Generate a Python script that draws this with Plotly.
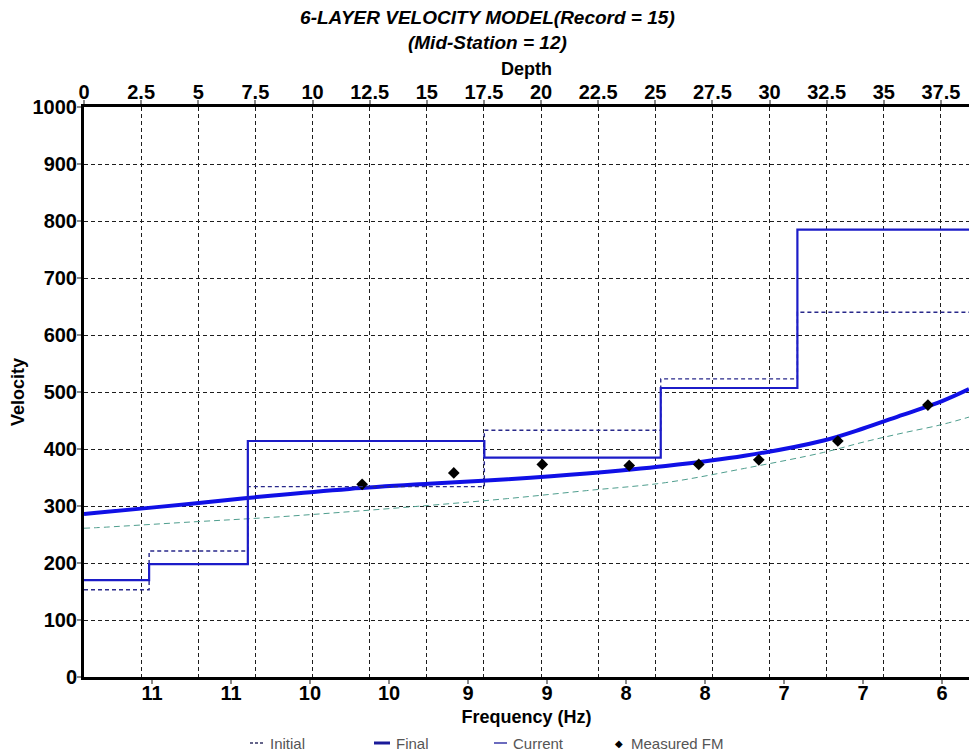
import plotly.graph_objects as go

# Layered velocity profiles (plotted against depth, top axis)
layer_tops = [0, 2.85, 7.17, 17.52, 25.24, 31.22]
initial_layer_vel = [153, 221, 334, 433, 523, 640]
current_layer_vel = [170, 198, 414, 385, 507, 785]

# Dispersion curves (plotted against frequency, bottom axis)
curve_freq = [11.68, 11.6, 11.0, 10.5, 10.0, 9.5, 9.0, 8.5, 8.0, 7.5, 7.0, 6.75, 6.5, 6.25, 6.08]
final_curve_vel = [286, 288, 304, 318, 330, 339, 347, 357, 370, 388, 415, 436, 460, 484, 505]
initial_curve_vel = [261, 262, 272, 280, 290, 301, 313, 327, 341, 366, 394, 412, 428, 443, 456]

# Measured fundamental-mode picks
measured_freq = [9.92, 9.34, 8.78, 8.23, 7.79, 7.41, 6.91, 6.34]
measured_vel = [338, 358, 373, 371, 373, 381, 414, 477]

# Frequency axis ticks and their (rounded) labels
freq_ticks = [11.25, 10.75, 10.25, 9.75, 9.25, 8.75, 8.25, 7.75, 7.25, 6.75, 6.25]
freq_labels = ["11", "11", "10", "10", "9", "9", "8", "8", "7", "7", "6"]

depth_range = [0, 38.73]
freq_range = [11.68, 6.08]
vel_range = [0, 1000]

W, H = 969, 754
ML, MR, MT, MB = 84, 0, 107, 77

FONT = "Liberation Sans, Arial, sans-serif"
GRID = "#1e1e1e"
GRID_DASH = "4px,3px"

fig = go.Figure()

# step profiles: each layer velocity holds until the next layer top
step_x = layer_tops + [depth_range[1] + 5]
fig.add_trace(go.Scatter(
    x=step_x, y=initial_layer_vel + [initial_layer_vel[-1]], xaxis="x2",
    mode="lines", line=dict(shape="hv", color="#28288a", width=1.4, dash="4px,3px"),
    name="Initial", showlegend=False, hoverinfo="skip"))
fig.add_trace(go.Scatter(
    x=step_x, y=current_layer_vel + [current_layer_vel[-1]], xaxis="x2",
    mode="lines", line=dict(shape="hv", color="#1c1cc8", width=2.2),
    name="Current", showlegend=False))

fig.add_trace(go.Scatter(
    x=curve_freq, y=initial_curve_vel, xaxis="x",
    mode="lines", line=dict(color="#4f9e8e", width=1, dash="6px,4px", shape="spline"),
    name="Initial curve", showlegend=False))
fig.add_trace(go.Scatter(
    x=curve_freq, y=final_curve_vel, xaxis="x",
    mode="lines", line=dict(color="#1010e6", width=4, shape="spline"),
    name="Final", showlegend=False))
fig.add_trace(go.Scatter(
    x=measured_freq, y=measured_vel, xaxis="x",
    mode="markers", marker=dict(symbol="diamond", size=9, color="#000000"),
    name="Measured FM", showlegend=False))

tick_font = dict(family=FONT, size=20, color="#000000", weight="bold")
title_font = dict(family=FONT, size=18, color="#000000", weight="bold")

axis_common = dict(
    showline=True, linecolor="#000000", linewidth=3, mirror=False,
    ticks="outside", ticklen=4, tickwidth=2, tickcolor="#8a8a8a",
    tickfont=tick_font, zeroline=False,
)

fig.update_layout(
    width=W, height=H,
    margin=dict(l=ML, r=MR, t=MT, b=MB),
    paper_bgcolor="#ffffff", plot_bgcolor="#ffffff",
    showlegend=False,
    title=dict(
        text="6-LAYER VELOCITY MODEL(Record = 15)<br>(Mid-Station = 12)",
        font=dict(family=FONT, size=19, color="#000000", weight="bold", style="italic"),
        x=0.503, xanchor="center", xref="container",
        y=0.968, yanchor="top", yref="container",
    ),
    xaxis=dict(
        axis_common, range=freq_range, tickmode="array",
        tickvals=freq_ticks, ticktext=freq_labels, showgrid=False,
        ticklabelstandoff=-8,
        title=dict(text="Frequency (Hz)", font=title_font, standoff=8),
    ),
    xaxis2=dict(
        axis_common, overlaying="x", side="top", range=depth_range,
        tick0=0, dtick=2.5, showgrid=True, gridcolor=GRID, gridwidth=1,
        griddash=GRID_DASH, ticklabelstandoff=-7,
        title=dict(text="Depth", font=title_font, standoff=1),
    ),
    yaxis=dict(
        axis_common, range=vel_range, tick0=0, dtick=100,
        showgrid=True, gridcolor=GRID, gridwidth=1, griddash=GRID_DASH,
        ticklabelstandoff=-4,
        title=dict(text="Velocity", font=title_font, standoff=4),
    ),
)

# Legend row drawn below the frequency axis title
plot_w = W - ML - MR
plot_h = H - MT - MB


def px_x(px):
    return (px - ML) / plot_w


def px_y(py):
    return (H - MB - py) / plot_h


legend_y = 743
legend_font = dict(family=FONT, size=15, color="#555555")
legend_items = [
    ("Initial", dict(color="#333366", width=1.3, dash="3px,2px"), 250, 265, 268),
    ("Final", dict(color="#1a1a99", width=3), 374, 390, 394),
    ("Current", dict(color="#3a3aa8", width=1.5), 494, 507, 511),
]
for label, line, x0, x1, tx in legend_items:
    fig.add_shape(type="line", xref="paper", yref="paper",
                  x0=px_x(x0), x1=px_x(x1), y0=px_y(legend_y), y1=px_y(legend_y),
                  line=line)
    fig.add_annotation(text=label, xref="paper", yref="paper",
                       x=px_x(tx), y=px_y(legend_y), xanchor="left", yanchor="middle",
                       showarrow=False, font=legend_font)

fig.add_annotation(text="\u25c6", xref="paper", yref="paper",
                   x=px_x(619), y=px_y(legend_y), xanchor="center", yanchor="middle",
                   showarrow=False, font=dict(family="DejaVu Sans", size=10, color="#000000"))
fig.add_annotation(text="Measured FM", xref="paper", yref="paper",
                   x=px_x(629), y=px_y(legend_y), xanchor="left", yanchor="middle",
                   showarrow=False, font=legend_font)

fig.write_html("out.html")
